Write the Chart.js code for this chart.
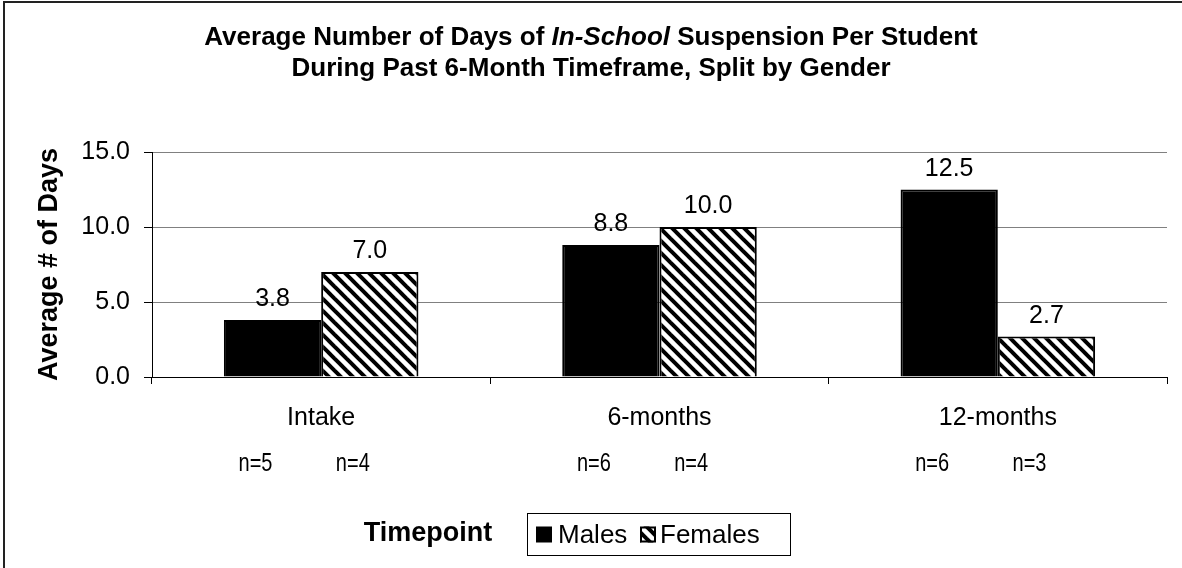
<!DOCTYPE html>
<html>
<head>
<meta charset="utf-8">
<script src="https://cdn.jsdelivr.net/npm/chart.js@4/dist/chart.umd.min.js"></script>
<style>
  html, body { margin: 0; padding: 0; background: #fff; }
  canvas { display: block; }
</style>
</head>
<body>
<canvas id="c" width="1182" height="568"></canvas>
<script>
// ---- data ----
const categories = ['Intake', '6-months', '12-months'];
const seriesNames = ['Males', 'Females'];
const males = [3.8, 8.8, 12.5];
const females = [7.0, 10.0, 2.7];
const maleN = ['n=5', 'n=6', 'n=6'];
const femaleN = ['n=4', 'n=4', 'n=3'];
const yTicks = [0, 5, 10, 15];
const titleLine1 = [['Average Number of Days of ', 'normal'], ['In-School', 'italic'], [' Suspension Per Student', 'normal']];
const titleLine2 = 'During Past 6-Month Timeframe, Split by Gender';
const yTitle = 'Average # of Days';
const xTitle = 'Timepoint';

const FONT = '"Liberation Sans", Arial, sans-serif';

const ctx0 = document.getElementById('c').getContext('2d');
const hatch = ctx0.createPattern((function(){
  const s = 12;
  const c = document.createElement('canvas');
  c.width = s; c.height = s;
  const g = c.getContext('2d');
  g.fillStyle = '#fff';
  g.fillRect(0, 0, s, s);
  g.strokeStyle = '#000';
  g.lineWidth = 4;
  for (let k = -1; k <= 1; k++) {
    g.beginPath();
    g.moveTo(k * s - 2, -2);
    g.lineTo(k * s + s + 2, s + 2);
    g.stroke();
  }
  return c;
})(), 'repeat');

const decor = {
  id: 'decor',
  afterDraw(chart) {
    const ctx = chart.ctx;
    ctx.save();
    // outer frame (top and left)
    ctx.fillStyle = '#222';
    ctx.fillRect(3, 1, 1182, 2);
    ctx.fillRect(3, 1, 2, 568);

    // title
    ctx.fillStyle = '#000';
    ctx.textBaseline = 'middle';
    const cx = 591;
    const parts = titleLine1.map(p => {
      ctx.font = (p[1] === 'italic' ? 'italic ' : '') + 'bold 26px ' + FONT;
      return { t: p[0], f: ctx.font, w: ctx.measureText(p[0]).width };
    });
    const total = parts.reduce((a, p) => a + p.w, 0);
    let x = cx - total / 2;
    ctx.textAlign = 'left';
    parts.forEach(p => { ctx.font = p.f; ctx.fillText(p.t, x, 38); x += p.w; });
    ctx.font = 'bold 26px ' + FONT;
    ctx.textAlign = 'center';
    ctx.fillText(titleLine2, cx, 69);

    // data labels
    ctx.font = '25px ' + FONT;
    ctx.textBaseline = 'alphabetic';
    chart.data.datasets.forEach((ds, i) => {
      chart.getDatasetMeta(i).data.forEach((bar, j) => {
        ctx.fillText(ds.data[j].toFixed(1), bar.x, bar.y - 14);
      });
    });

    // n labels (narrow)
    ctx.font = '25px ' + FONT;
    ctx.textBaseline = 'middle';
    [maleN, femaleN].forEach((arr, i) => {
      chart.getDatasetMeta(i).data.forEach((bar, j) => {
        ctx.save();
        ctx.translate(bar.x - 17, 464);
        ctx.scale(0.8, 1);
        ctx.fillText(arr[j], 0, 0);
        ctx.restore();
      });
    });

    // x title
    ctx.font = 'bold 27px ' + FONT;
    ctx.textAlign = 'center';
    ctx.fillText(xTitle, 428, 534);

    // legend
    const lx = 527, ly = 513, lw = 263, lh = 42;
    ctx.strokeStyle = '#000';
    ctx.lineWidth = 1;
    ctx.strokeRect(lx + 0.5, ly + 0.5, lw, lh);
    const midY = ly + lh / 2 + 0.5;
    ctx.font = '26px ' + FONT;
    ctx.textAlign = 'left';
    ctx.fillStyle = '#000';
    ctx.fillRect(536, midY - 8, 16, 16);
    ctx.fillText(seriesNames[0], 558, midY + 1);
    ctx.fillStyle = hatch;
    ctx.fillRect(640, midY - 8, 16, 16);
    ctx.strokeStyle = '#000';
    ctx.lineWidth = 2;
    ctx.strokeRect(641, midY - 7, 14, 14);
    ctx.fillStyle = '#000';
    ctx.fillText(seriesNames[1], 660, midY + 1);
    ctx.restore();
  }
};

new Chart(document.getElementById('c'), {
  type: 'bar',
  data: {
    labels: categories,
    datasets: [
      { label: seriesNames[0], data: males, backgroundColor: '#000', borderColor: '#000', borderWidth: 2 },
      { label: seriesNames[1], data: females, backgroundColor: hatch, borderColor: '#000', borderWidth: 2 }
    ]
  },
  options: {
    responsive: false,
    animation: false,
    events: [],
    layout: { padding: { left: 0, right: 15, top: 152, bottom: 0 } },
    plugins: { legend: { display: false }, title: { display: false }, tooltip: { enabled: false } },
    datasets: { bar: { categoryPercentage: 0.575, barPercentage: 1.0 } },
    scales: {
      x: {
        offset: true,
        afterFit(s) { s.height = 191; },
        grid: {
          offset: true,
          drawOnChartArea: true,
          color: c => (c.index === categories.length ? '#808080' : 'rgba(0,0,0,0)'),
          tickColor: '#000',
          tickLength: 7
        },
        border: { color: '#000', width: 1 },
        ticks: { color: '#000', font: { family: FONT, size: 25 }, padding: 19 }
      },
      y: {
        min: 0, max: 15,
        afterFit(s) { s.width = 152; },
        afterBuildTicks(s) { s.ticks = yTicks.map(v => ({ value: v })); },
        grid: { color: '#808080', tickColor: '#000', tickLength: 8 },
        border: { color: '#000', width: 1 },
        ticks: { color: '#000', font: { family: FONT, size: 25 }, padding: 14, callback: v => Number(v).toFixed(1) },
        title: { display: true, text: yTitle, color: '#000', font: { family: FONT, size: 27, weight: 'bold' }, padding: { top: 33, bottom: 0 } }
      }
    }
  },
  plugins: [decor]
});
</script>
</body>
</html>
